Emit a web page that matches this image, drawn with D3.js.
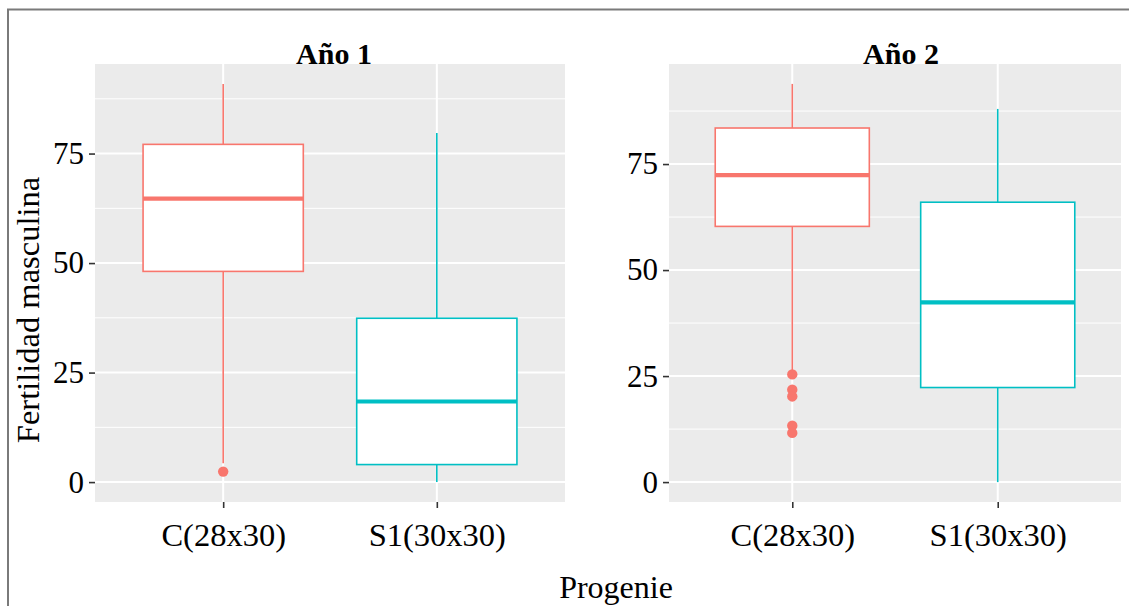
<!DOCTYPE html>
<html>
<head>
<meta charset="utf-8">
<script src="https://cdn.jsdelivr.net/npm/d3@7"></script>
<style>
  html, body { margin: 0; padding: 0; background: #fff; }
  svg { display: block; }
  text { font-family: "Liberation Serif", "DejaVu Serif", serif; }
</style>
</head>
<body>
<svg id="chart" width="1129" height="606"></svg>
<script>
// ---------------- data ----------------
const panels = ["Año 1", "Año 2"];
const categories = ["C(28x30)", "S1(30x30)"];
const colors = ["#F8766D", "#00BFC4"];
const yTicks = [0, 25, 50, 75];

// box statistics per panel: [C, S1]
const lowerWhisker1 = [4.3, 0.0];
const q1_1 = [48.1, 4.0];
const median1 = [64.7, 18.4];
const q3_1 = [77.1, 37.4];
const upperWhisker1 = [90.9, 79.7];
const outliers1 = [[2.4], []];

const lowerWhisker2 = [26.2, 0.0];
const q1_2 = [60.3, 22.3];
const median2 = [72.4, 42.4];
const q3_2 = [83.5, 66.0];
const upperWhisker2 = [93.9, 88.0];
const outliers2 = [[25.4, 21.8, 20.2, 13.3, 11.6], []];

const panelStats = [
  { lw: lowerWhisker1, q1: q1_1, med: median1, q3: q3_1, uw: upperWhisker1, out: outliers1 },
  { lw: lowerWhisker2, q1: q1_2, med: median2, q3: q3_2, uw: upperWhisker2, out: outliers2 }
];

// ---------------- layout ----------------
const svg = d3.select("#chart");
const panelBoxes = [
  { x0: 95, x1: 565 },
  { x0: 669, x1: 1121 }
];
const pTop = 64, pBottom = 502;
const titleDx = [4, 6];

// figure border (cropped rectangle)
svg.append("rect")
  .attr("x", 8).attr("y", 9.5)
  .attr("width", 1200).attr("height", 700)
  .attr("fill", "none").attr("stroke", "#7a7a7a").attr("stroke-width", 2);

panelStats.forEach((st, pi) => {
  const pb = panelBoxes[pi];
  const allVals = [].concat(st.lw, st.uw, ...st.out);
  const mn = d3.min(allVals), mx = d3.max(allVals);
  const pad = (mx - mn) * 0.05;
  const y = d3.scaleLinear().domain([mn - pad, mx + pad]).range([pBottom, pTop]);
  const x = d3.scalePoint().domain(categories).range([pb.x0, pb.x1]).padding(0.6);
  const step = x.step();
  const bw = step * 0.75;

  // title (drawn first, panel overlaps its bottom)
  svg.append("text")
    .attr("x", (pb.x0 + pb.x1) / 2 + titleDx[pi])
    .attr("y", 64)
    .attr("text-anchor", "middle")
    .attr("font-weight", "bold")
    .attr("font-size", 30)
    .attr("fill", "#000")
    .text(panels[pi]);

  const g = svg.append("g");
  g.append("rect")
    .attr("x", pb.x0).attr("y", pTop)
    .attr("width", pb.x1 - pb.x0).attr("height", pBottom - pTop)
    .attr("fill", "#EBEBEB");

  // minor grid
  const minor = [];
  for (let i = 0; i < yTicks.length; i++) {
    const m = yTicks[i] + 12.5;
    if (m <= y.domain()[1]) minor.push(m);
  }
  g.selectAll(".minor").data(minor).enter().append("line")
    .attr("x1", pb.x0).attr("x2", pb.x1)
    .attr("y1", d => y(d)).attr("y2", d => y(d))
    .attr("stroke", "#fff").attr("stroke-width", 1);
  // major grid
  g.selectAll(".major").data(yTicks).enter().append("line")
    .attr("x1", pb.x0).attr("x2", pb.x1)
    .attr("y1", d => y(d)).attr("y2", d => y(d))
    .attr("stroke", "#fff").attr("stroke-width", 2);
  g.selectAll(".vmajor").data(categories).enter().append("line")
    .attr("x1", d => x(d)).attr("x2", d => x(d))
    .attr("y1", pTop).attr("y2", pBottom)
    .attr("stroke", "#fff").attr("stroke-width", 2);

  // boxes
  categories.forEach((c, ci) => {
    const cx = x(c);
    const col = colors[ci];
    g.append("line")
      .attr("x1", cx).attr("x2", cx)
      .attr("y1", y(st.uw[ci])).attr("y2", y(st.q3[ci]))
      .attr("stroke", col).attr("stroke-width", 1.6);
    g.append("line")
      .attr("x1", cx).attr("x2", cx)
      .attr("y1", y(st.q1[ci])).attr("y2", y(st.lw[ci]))
      .attr("stroke", col).attr("stroke-width", 1.6);
    g.append("rect")
      .attr("x", cx - bw / 2).attr("y", y(st.q3[ci]))
      .attr("width", bw).attr("height", y(st.q1[ci]) - y(st.q3[ci]))
      .attr("fill", "#fff").attr("stroke", col).attr("stroke-width", 1.6);
    g.append("line")
      .attr("x1", cx - bw / 2).attr("x2", cx + bw / 2)
      .attr("y1", y(st.med[ci])).attr("y2", y(st.med[ci]))
      .attr("stroke", col).attr("stroke-width", 4.2);
    g.selectAll(null).data(st.out[ci]).enter().append("circle")
      .attr("cx", cx).attr("cy", d => y(d)).attr("r", 5.2)
      .attr("fill", col);
  });

  // y axis
  const ya = svg.append("g")
    .attr("transform", `translate(${pb.x0},0)`)
    .call(d3.axisLeft(y).tickValues(yTicks).tickSize(6).tickPadding(5).tickFormat(d3.format("d")));
  ya.select(".domain").remove();
  ya.selectAll(".tick line").attr("stroke", "#333").attr("stroke-width", 1.6);
  ya.selectAll(".tick text").attr("font-size", 31).attr("fill", "#000")
    .attr("font-family", "Liberation Serif");

  // x axis
  const xa = svg.append("g")
    .attr("transform", `translate(0,${pBottom})`)
    .call(d3.axisBottom(x).tickSize(6).tickPadding(5));
  xa.select(".domain").remove();
  xa.selectAll(".tick line").attr("stroke", "#333").attr("stroke-width", 1.6);
  xa.selectAll(".tick text").attr("font-size", 32.5).attr("fill", "#000")
    .attr("font-family", "Liberation Serif")
    .attr("y", 44).attr("dy", 0);
});

// axis titles
svg.append("text")
  .attr("transform", "translate(39,310) rotate(-90)")
  .attr("text-anchor", "middle")
  .attr("font-size", 32.5)
  .attr("fill", "#000")
  .text("Fertilidad masculina");

svg.append("text")
  .attr("x", 616).attr("y", 598)
  .attr("text-anchor", "middle")
  .attr("font-size", 32)
  .attr("fill", "#000")
  .text("Progenie");
</script>
</body>
</html>
